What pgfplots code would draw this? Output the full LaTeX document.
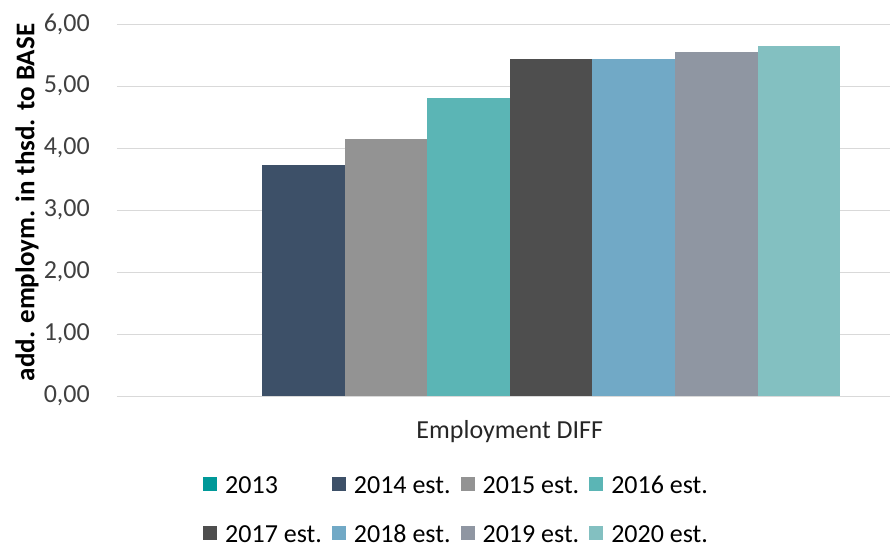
\documentclass[border=0pt]{standalone}
\usepackage{fontspec}
\setmainfont{Carlito}
\usepackage{pgfplots}
\pgfplotsset{compat=1.18}

\definecolor{cA}{HTML}{009999}
\definecolor{cB}{HTML}{3D5068}
\definecolor{cC}{HTML}{939393}
\definecolor{cD}{HTML}{5BB5B5}
\definecolor{cE}{HTML}{4E4E4E}
\definecolor{cF}{HTML}{71A9C6}
\definecolor{cG}{HTML}{8F96A2}
\definecolor{cH}{HTML}{83C0C1}
\definecolor{gridgray}{HTML}{D9D9D9}
\definecolor{ticktext}{HTML}{404040}

\newcommand{\chartfont}{\fontsize{26bp}{31bp}\selectfont}

\begin{document}
\begin{tikzpicture}
\useasboundingbox (-117bp,-149bp) rectangle (775bp,396bp);
\begin{axis}[
  at={(0,0)}, anchor=south west, scale only axis,
  width=773bp, height=372bp,
  xmin=-392.75, xmax=380.25, ymin=0, ymax=6,
  clip=false,
  ybar=0pt, bar width=82.6bp,
  axis line style={draw=none},
  major tick length=0pt,
  xtick={0}, xticklabels={Employment DIFF},
  ytick={0,1,2,3,4,5,6},
  ymajorgrids,
  major grid style={draw=gridgray, line width=1bp},
  extra y ticks={0}, extra y tick labels={},
  extra y tick style={grid style={draw=gridgray, line width=1.6bp}},
  tick label style={font=\chartfont},
  xticklabel style={text=black!85, anchor=base, yshift=-42bp},
  yticklabel style={text=ticktext, anchor=east, inner sep=0pt, xshift=-27bp,
    /pgf/number format/.cd, fixed, fixed zerofill, precision=2, use comma, assume math mode=true},
  ylabel={add. employm. in thsd. to BASE},
  ylabel style={font=\fontsize{27bp}{32bp}\selectfont\bfseries,
    at={(rel axis cs:0,0.52)}, anchor=center, yshift=90bp},
  legend columns=4,
  legend cell align=left,
  legend style={draw=none, fill=none, at={(0.1113,-0.3035)}, anchor=west,
    font=\chartfont, inner sep=0pt, row sep=31bp,
    nodes={inner sep=0pt, text height=18bp, text depth=0bp},
    /tikz/every odd column/.append style={column sep=8bp},
    /tikz/every even column/.append style={column sep=10bp}},
  legend image code/.code={\fill[#1] (0bp,-7bp) rectangle (14bp,7bp);},
]
% 2013 has no value in this series; only its legend key is shown
\addplot[draw=none, fill=none,
  legend image code/.code={\fill[cA] (0bp,-7bp) rectangle (14bp,7bp);}] coordinates {(0,0)};
\addplot[fill=cB, draw=none] coordinates {(0,3.73)};
\addplot[fill=cC, draw=none] coordinates {(0,4.15)};
\addplot[fill=cD, draw=none] coordinates {(0,4.81)};
\addplot[fill=cE, draw=none] coordinates {(0,5.44)};
\addplot[fill=cF, draw=none] coordinates {(0,5.43)};
\addplot[fill=cG, draw=none] coordinates {(0,5.55)};
\addplot[fill=cH, draw=none] coordinates {(0,5.65)};
\legend{2013, 2014 est., 2015 est., 2016 est., 2017 est., 2018 est., 2019 est., 2020 est.}
\end{axis}
\end{tikzpicture}
\end{document}
